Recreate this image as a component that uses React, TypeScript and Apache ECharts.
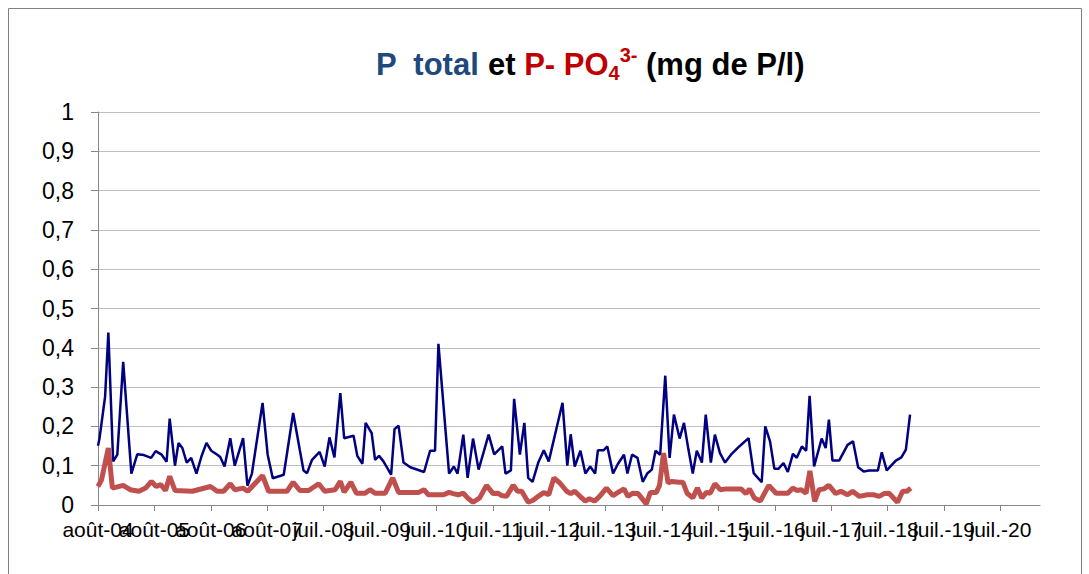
import React, { useEffect, useRef } from "react";
import * as echarts from "echarts";

// Axis origin (first tick) and tick labels (one tick every 365 days)
const AXIS_START = "2004-08-01";
const TICK_STEP_DAYS = 365;
const X_MAX_DAYS = 6096;
const xTickLabels = [
  "août-04", "août-05", "août-06", "août-07", "juil.-08", "juil.-09", "juil.-10",
  "juil.-11", "juil.-12", "juil.-13", "juil.-14", "juil.-15", "juil.-16", "juil.-17",
  "juil.-18", "juil.-19", "juil.-20",
];
const yTickLabels = ["0", "0,1", "0,2", "0,3", "0,4", "0,5", "0,6", "0,7", "0,8", "0,9", "1"];

// P total (mg de P/l)
const pTotalDates = [
  "2004-08-01", "2004-08-11", "2004-09-16", "2004-10-07", "2004-11-07", "2004-12-04",
  "2005-01-11", "2005-03-05", "2005-04-12", "2005-05-25", "2005-07-11", "2005-08-09",
  "2005-09-17", "2005-10-19", "2005-11-08", "2005-12-12", "2006-01-04", "2006-01-29",
  "2006-02-26", "2006-03-27", "2006-04-30", "2006-06-02", "2006-07-04", "2006-08-04",
  "2006-09-12", "2006-10-01", "2006-10-29", "2006-12-05", "2007-01-03", "2007-02-26",
  "2007-03-26", "2007-04-24", "2007-07-02", "2007-08-04", "2007-09-06", "2007-11-16",
  "2008-01-16", "2008-02-28", "2008-03-23", "2008-04-15", "2008-05-17", "2008-07-05",
  "2008-08-07", "2008-09-07", "2008-10-09", "2008-11-16", "2008-12-11", "2009-02-10",
  "2009-03-06", "2009-04-08", "2009-04-29", "2009-06-07", "2009-06-29", "2009-07-25",
  "2009-08-22", "2009-10-11", "2009-11-02", "2009-11-28", "2009-12-30", "2010-02-12",
  "2010-05-12", "2010-06-20", "2010-07-22", "2010-08-13", "2010-10-21", "2010-11-21",
  "2010-12-15", "2011-01-21", "2011-02-18", "2011-03-25", "2011-04-30", "2011-07-04",
  "2011-08-09", "2011-09-30", "2011-10-21", "2011-11-25", "2011-12-16", "2012-01-22",
  "2012-02-20", "2012-03-16", "2012-04-13", "2012-05-20", "2012-06-25", "2012-07-27",
  "2012-10-24", "2012-11-24", "2012-12-16", "2013-01-11", "2013-02-17", "2013-03-21",
  "2013-04-21", "2013-05-23", "2013-06-10", "2013-07-16", "2013-08-10", "2013-09-16",
  "2013-10-18", "2013-11-26", "2013-12-18", "2014-01-17", "2014-02-21", "2014-03-27",
  "2014-04-25", "2014-05-25", "2014-06-18", "2014-07-18", "2014-08-20", "2014-09-17",
  "2014-10-15", "2014-11-21", "2014-12-19", "2015-01-17", "2015-02-14", "2015-03-12",
  "2015-04-14", "2015-05-09", "2015-06-11", "2015-07-07", "2015-08-09", "2015-09-11",
  "2015-10-19", "2015-12-12", "2016-02-10", "2016-03-14", "2016-05-05", "2016-05-28",
  "2016-06-28", "2016-07-26", "2016-08-21", "2016-09-23", "2016-10-21", "2016-11-23",
  "2016-12-18", "2017-01-20", "2017-02-17", "2017-03-11", "2017-04-09", "2017-05-28",
  "2017-06-23", "2017-07-14", "2017-08-06", "2017-09-18", "2017-11-12", "2017-12-17",
  "2018-01-19", "2018-02-24", "2018-03-30", "2018-05-27", "2018-06-21", "2018-07-23",
  "2018-09-20", "2018-10-26", "2018-11-24", "2018-12-21",
];
const pTotalValues = [
  0.151, 0.17, 0.276, 0.439, 0.111, 0.128,
  0.364, 0.08, 0.129, 0.127, 0.12, 0.137,
  0.128, 0.11, 0.22, 0.1, 0.158, 0.145,
  0.108, 0.12, 0.08, 0.124, 0.158, 0.138,
  0.128, 0.122, 0.098, 0.17, 0.1, 0.17,
  0.049, 0.08, 0.26, 0.128, 0.068, 0.077,
  0.234, 0.14, 0.088, 0.081, 0.115, 0.135,
  0.098, 0.172, 0.121, 0.285, 0.17, 0.176,
  0.125, 0.105, 0.209, 0.183, 0.115, 0.125,
  0.111, 0.077, 0.193, 0.202, 0.108, 0.096,
  0.084, 0.138, 0.138, 0.41, 0.08, 0.098,
  0.08, 0.179, 0.069, 0.169, 0.09, 0.179,
  0.129, 0.149, 0.08, 0.088, 0.27, 0.128,
  0.209, 0.069, 0.059, 0.108, 0.139, 0.111,
  0.26, 0.1, 0.18, 0.098, 0.138, 0.08,
  0.098, 0.08, 0.139, 0.139, 0.149, 0.08,
  0.105, 0.128, 0.08, 0.128, 0.12, 0.059,
  0.08, 0.09, 0.138, 0.128, 0.329, 0.12,
  0.23, 0.169, 0.209, 0.141, 0.08, 0.138,
  0.108, 0.23, 0.108, 0.179, 0.132, 0.108,
  0.128, 0.149, 0.17, 0.081, 0.058, 0.2,
  0.162, 0.092, 0.092, 0.107, 0.084, 0.13,
  0.12, 0.149, 0.138, 0.278, 0.098, 0.169,
  0.145, 0.217, 0.113, 0.113, 0.153, 0.162,
  0.096, 0.085, 0.088, 0.088, 0.134, 0.088,
  0.113, 0.121, 0.141, 0.23,
];

// P-PO4 3- (mg de P/l)
const po4Dates = [
  "2004-08-01", "2004-08-24", "2004-10-07", "2004-11-02", "2005-01-11", "2005-02-25",
  "2005-04-23", "2005-06-05", "2005-07-13", "2005-08-13", "2005-09-11", "2005-10-12",
  "2005-11-08", "2005-12-12", "2006-04-03", "2006-07-30", "2006-09-11", "2006-10-23",
  "2006-12-05", "2007-01-03", "2007-02-26", "2007-03-28", "2007-07-02", "2007-08-10",
  "2007-12-07", "2008-01-16", "2008-02-28", "2008-04-25", "2008-06-29", "2008-08-07",
  "2008-10-14", "2008-11-16", "2008-12-11", "2009-01-23", "2009-02-28", "2009-04-25",
  "2009-05-27", "2009-06-29", "2009-09-03", "2009-10-21", "2009-11-28", "2010-04-05",
  "2010-05-12", "2010-06-09", "2010-09-15", "2010-10-21", "2010-11-17", "2010-12-19",
  "2011-01-21", "2011-02-18", "2011-03-25", "2011-05-07", "2011-06-20", "2011-08-02",
  "2011-09-04", "2011-09-25", "2011-10-27", "2011-12-10", "2012-01-07", "2012-02-03",
  "2012-03-16", "2012-04-17", "2012-05-20", "2012-06-25", "2012-07-27", "2012-08-29",
  "2012-10-07", "2012-11-20", "2012-12-16", "2013-01-11", "2013-02-17", "2013-03-21",
  "2013-04-16", "2013-05-19", "2013-06-21", "2013-08-04", "2013-09-16", "2013-10-18",
  "2013-11-26", "2013-12-21", "2014-01-23", "2014-02-25", "2014-04-19", "2014-05-16",
  "2014-06-23", "2014-07-14", "2014-08-09", "2014-09-07", "2014-10-02", "2014-11-17",
  "2014-12-12", "2015-01-08", "2015-02-14", "2015-03-16", "2015-04-14", "2015-05-13",
  "2015-06-07", "2015-07-07", "2015-08-11", "2015-09-17", "2015-12-23", "2016-01-25",
  "2016-02-16", "2016-03-18", "2016-04-26", "2016-06-20", "2016-08-06", "2016-10-21",
  "2016-11-23", "2016-12-18", "2017-01-16", "2017-02-16", "2017-03-13", "2017-04-13",
  "2017-05-11", "2017-06-12", "2017-07-14", "2017-08-27", "2017-09-29", "2017-11-12",
  "2017-12-14", "2018-01-26", "2018-03-20", "2018-05-02", "2018-06-04", "2018-07-06",
  "2018-08-07", "2018-10-01", "2018-11-03", "2018-12-01", "2018-12-26",
];
const po4Values = [
  0.047, 0.064, 0.145, 0.043, 0.05, 0.039,
  0.035, 0.043, 0.06, 0.047, 0.052, 0.037,
  0.073, 0.037, 0.035, 0.047, 0.035, 0.035,
  0.054, 0.039, 0.043, 0.035, 0.075, 0.035,
  0.035, 0.058, 0.037, 0.037, 0.054, 0.035,
  0.039, 0.06, 0.033, 0.058, 0.03, 0.03,
  0.039, 0.03, 0.03, 0.069, 0.032, 0.032,
  0.039, 0.026, 0.026, 0.032, 0.029, 0.026,
  0.03, 0.018, 0.007, 0.018, 0.05, 0.029,
  0.03, 0.024, 0.022, 0.05, 0.035, 0.035,
  0.007, 0.012, 0.022, 0.032, 0.026, 0.069,
  0.056, 0.035, 0.029, 0.035, 0.021, 0.01,
  0.016, 0.01, 0.022, 0.043, 0.024, 0.032,
  0.041, 0.022, 0.03, 0.029, 0.003, 0.032,
  0.032, 0.05, 0.132, 0.056, 0.06, 0.058,
  0.058, 0.03, 0.018, 0.043, 0.018, 0.032,
  0.03, 0.054, 0.039, 0.041, 0.041, 0.029,
  0.041, 0.018, 0.01, 0.05, 0.03, 0.03,
  0.043, 0.037, 0.039, 0.03, 0.087, 0.009,
  0.039, 0.041, 0.05, 0.029, 0.035, 0.026,
  0.035, 0.022, 0.026, 0.026, 0.022, 0.029,
  0.03, 0.007, 0.035, 0.035, 0.043,
];

const FONT = "'Liberation Sans', Arial, sans-serif";
const DAY_MS = 86400000;
const dayOffset = (d: string) => Math.round((Date.parse(d) - Date.parse(AXIS_START)) / DAY_MS);

// Plot area geometry
const PLOT_LEFT = 98;
const PLOT_RIGHT_PX = 1040;
const CHART_W = 1089;
const lastTickDays = (xTickLabels.length - 1) * TICK_STEP_DAYS;
// the tick-label strip ends at the last tick's position on the day scale
const LAST_TICK_PX = PLOT_LEFT + ((PLOT_RIGHT_PX - PLOT_LEFT) * lastTickDays) / X_MAX_DAYS;

const titleMain = { fontSize: 31, fontWeight: "bold", fontFamily: FONT, lineHeight: 38, verticalAlign: "middle" };
const titleSmall = { fontSize: 20, fontWeight: "bold", fontFamily: FONT, lineHeight: 20, fill: "#C00000" };

export default function App() {
  const ref = useRef<HTMLDivElement>(null);
  useEffect(() => {
    if (!ref.current) return;
    const chart = echarts.init(ref.current, null, { renderer: "svg" });
    chart.setOption({
      animation: false,
      backgroundColor: "#ffffff",
      grid: [
        { left: PLOT_LEFT, right: CHART_W - PLOT_RIGHT_PX, top: 112, bottom: 69, containLabel: false },
        { left: PLOT_LEFT, right: CHART_W - LAST_TICK_PX, top: 112, bottom: 69, containLabel: false },
      ],
      graphic: [
        {
          type: "rect",
          shape: { x: 8.5, y: 8.5, width: 1073, height: 600 },
          style: { fill: "none", stroke: "#808080", lineWidth: 1 },
          silent: true,
        },
        {
          type: "text",
          left: 376,
          top: 45,
          style: {
            text: "{b|P  total}{k| et }{r|P- PO}{rs|4}{rp|3-}{k| (mg de P/l)}",
            rich: {
              b: { ...titleMain, fill: "#1F497D" },
              k: { ...titleMain, fill: "#000000" },
              r: { ...titleMain, fill: "#C00000" },
              rs: { ...titleSmall, verticalAlign: "bottom" },
              rp: { ...titleSmall, verticalAlign: "top" },
            },
          },
        },
      ],
      xAxis: [
        {
          type: "value",
          gridIndex: 0,
          min: 0,
          max: X_MAX_DAYS,
          splitLine: { show: false },
          axisLine: { show: true, lineStyle: { color: "#868686", width: 1 } },
          axisTick: { show: false },
          axisLabel: { show: false },
        },
        {
          type: "category",
          gridIndex: 1,
          position: "bottom",
          boundaryGap: false,
          data: xTickLabels,
          splitLine: { show: false },
          axisLine: { show: false },
          axisTick: { show: true, interval: 0, length: 6, lineStyle: { color: "#868686" } },
          axisLabel: {
            interval: 0,
            color: "#000000",
            fontSize: 21,
            fontFamily: FONT,
            margin: 14,
          },
        },
      ],
      yAxis: [
        {
          type: "value",
          gridIndex: 0,
          min: 0,
          max: 1,
          interval: 0.1,
          axisLine: { show: true, lineStyle: { color: "#868686", width: 1 } },
          axisTick: { show: true, length: 7, lineStyle: { color: "#868686" } },
          splitLine: { show: true, lineStyle: { color: "#c0c0c0", width: 1 } },
          axisLabel: {
            color: "#000000",
            fontSize: 23,
            fontFamily: FONT,
            margin: 24,
            formatter: (v: number) => yTickLabels[Math.round(v * 10)] ?? "",
          },
        },
        { type: "value", gridIndex: 1, show: false, min: 0, max: 1 },
      ],
      series: [
        {
          name: "P total",
          type: "line",
          xAxisIndex: 0,
          yAxisIndex: 0,
          showSymbol: false,
          symbol: "none",
          data: pTotalDates.map((d, i) => [dayOffset(d), pTotalValues[i]]),
          lineStyle: { color: "#000080", width: 2.5 },
          itemStyle: { color: "#000080" },
          z: 2,
        },
        {
          name: "P-PO4",
          type: "line",
          xAxisIndex: 0,
          yAxisIndex: 0,
          showSymbol: false,
          symbol: "none",
          data: po4Dates.map((d, i) => [dayOffset(d), po4Values[i]]),
          lineStyle: { color: "#C0504D", width: 5 },
          itemStyle: { color: "#C0504D" },
          z: 3,
        },
      ],
    });
    return () => chart.dispose();
  }, []);
  return <div ref={ref} style={{ position: "absolute", left: 0, top: 0, width: 1089, height: 574 }} />;
}
